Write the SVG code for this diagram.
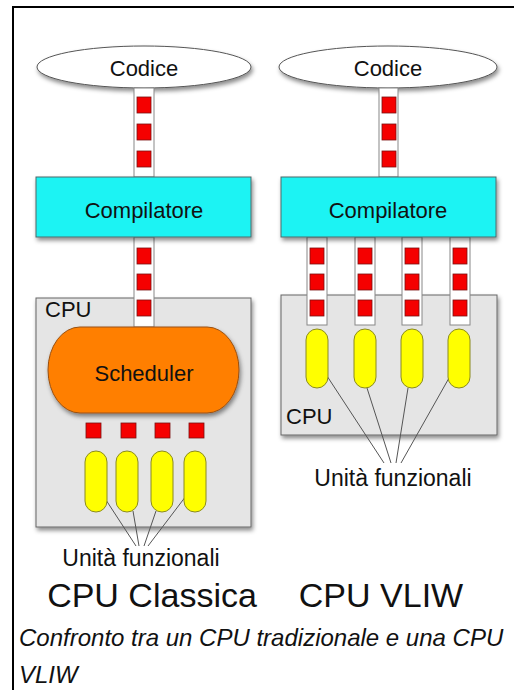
<svg xmlns="http://www.w3.org/2000/svg" width="514" height="690" viewBox="0 0 514 690">
<defs>
<filter id="sh" x="-10%" y="-10%" width="125%" height="130%">
<feDropShadow dx="1.5" dy="3" stdDeviation="2" flood-color="#000" flood-opacity="0.45"/>
</filter>
</defs>
<style>
text{font-family:"Liberation Sans",Arial,sans-serif;fill:#111}
.lbl{font-size:22px;text-anchor:middle}
.ell{fill:#fff;stroke:#555;stroke-width:1}
.comp{fill:#1ff3f3;stroke:#4a6a6a;stroke-width:1}
.cpu{fill:#e5e5e5;stroke:#666;stroke-width:1}
.sch{fill:#ff7f00;stroke:#9a5010;stroke-width:1}
.strip{fill:#fff;stroke:#888;stroke-width:1}
.sq{fill:#f50000;stroke:#7a1010;stroke-width:0.8}
.pill{fill:#ffff00;stroke:#8a8a20;stroke-width:1}
.ln{stroke:#555;stroke-width:1;fill:none}
</style>
<rect x="13" y="7" width="520" height="700" fill="#fff" stroke="#000" stroke-width="2"/>

<g id="cpu-classica">
<rect class="cpu" x="36" y="298" width="215" height="229" filter="url(#sh)"/>
<text x="45" y="317" style="font-size:22px">CPU</text>
</g>
<g id="cpu-vliw">
<rect class="cpu" x="281" y="295" width="216" height="140" filter="url(#sh)"/>
<text x="286" y="424" style="font-size:22px">CPU</text>
</g>

<g id="codice-left">
<ellipse class="ell" cx="144" cy="67" rx="107" ry="21" filter="url(#sh)"/>
<text class="lbl" x="144" y="76">Codice</text>
</g>
<g id="codice-right">
<ellipse class="ell" cx="388" cy="67" rx="109" ry="21" filter="url(#sh)"/>
<text class="lbl" x="388" y="76">Codice</text>
</g>

<g id="connectors">
<g id="strip-l1">
<rect class="strip" x="134" y="88" width="20" height="89"/>
<rect class="sq" x="137" y="97" width="14" height="16"/>
<rect class="sq" x="137" y="124" width="14" height="16"/>
<rect class="sq" x="137" y="151" width="14" height="16"/>
</g>
<g id="strip-l2">
<rect class="strip" x="134" y="237" width="20" height="90"/>
<rect class="sq" x="137" y="248" width="14" height="16"/>
<rect class="sq" x="137" y="274" width="14" height="16"/>
<rect class="sq" x="137" y="300" width="14" height="16"/>
</g>
<g id="strip-r1">
<rect class="strip" x="379" y="88" width="19" height="89"/>
<rect class="sq" x="382" y="97" width="14" height="16"/>
<rect class="sq" x="382" y="124" width="14" height="16"/>
<rect class="sq" x="382" y="151" width="14" height="16"/>
</g>
<g id="strip-r2">
<rect class="strip" x="307" y="237" width="20" height="88"/>
<rect class="sq" x="310" y="248" width="14" height="16"/>
<rect class="sq" x="310" y="274" width="14" height="16"/>
<rect class="sq" x="310" y="300" width="14" height="16"/>
<rect class="strip" x="355" y="237" width="20" height="88"/>
<rect class="sq" x="358" y="248" width="14" height="16"/>
<rect class="sq" x="358" y="274" width="14" height="16"/>
<rect class="sq" x="358" y="300" width="14" height="16"/>
<rect class="strip" x="402" y="237" width="20" height="88"/>
<rect class="sq" x="405" y="248" width="14" height="16"/>
<rect class="sq" x="405" y="274" width="14" height="16"/>
<rect class="sq" x="405" y="300" width="14" height="16"/>
<rect class="strip" x="450" y="237" width="20" height="88"/>
<rect class="sq" x="453" y="248" width="14" height="16"/>
<rect class="sq" x="453" y="274" width="14" height="16"/>
<rect class="sq" x="453" y="300" width="14" height="16"/>
</g>
<g id="queue-l">
<rect class="sq" x="86" y="423" width="15" height="15"/>
<rect class="sq" x="121" y="423" width="15" height="15"/>
<rect class="sq" x="155" y="423" width="15" height="15"/>
<rect class="sq" x="189" y="423" width="15" height="15"/>
</g>
<line class="ln" x1="106" y1="500" x2="136" y2="546"/>
<line class="ln" x1="133" y1="511" x2="139" y2="546"/>
<line class="ln" x1="156" y1="511" x2="144" y2="546"/>
<line class="ln" x1="186" y1="496" x2="148" y2="546"/>
<line class="ln" x1="327" y1="376" x2="384" y2="463"/>
<line class="ln" x1="367" y1="388" x2="391" y2="463"/>
<line class="ln" x1="408" y1="388" x2="396" y2="463"/>
<line class="ln" x1="449" y1="378" x2="401" y2="463"/>
</g>

<g id="compilatore-left">
<rect class="comp" x="36" y="177" width="215" height="60" filter="url(#sh)"/>
<text class="lbl" x="144" y="218">Compilatore</text>
</g>
<g id="compilatore-right">
<rect class="comp" x="281" y="177" width="215" height="60" filter="url(#sh)"/>
<text class="lbl" x="388" y="218">Compilatore</text>
</g>

<g id="scheduler">
<rect class="sch" x="48" y="327" width="191" height="86" rx="32" ry="43" filter="url(#sh)"/>
<text class="lbl" x="144" y="381">Scheduler</text>
</g>

<g id="unita-left">
<rect class="pill" x="85" y="451" width="22" height="61" rx="11"/>
<rect class="pill" x="116" y="451" width="22" height="61" rx="11"/>
<rect class="pill" x="151" y="451" width="22" height="61" rx="11"/>
<rect class="pill" x="184" y="451" width="22" height="61" rx="11"/>
</g>
<g id="unita-right">
<rect class="pill" x="306" y="329" width="22" height="59" rx="11"/>
<rect class="pill" x="354" y="329" width="22" height="59" rx="11"/>
<rect class="pill" x="401" y="329" width="22" height="59" rx="11"/>
<rect class="pill" x="448" y="329" width="22" height="59" rx="11"/>
</g>

<g id="labels">
<text x="141" y="566" style="font-size:23px;text-anchor:middle">Unità funzionali</text>
<text x="393" y="486" style="font-size:23px;text-anchor:middle">Unità funzionali</text>
<text x="152" y="607" style="font-size:34px;text-anchor:middle">CPU Classica</text>
<text x="381" y="607" style="font-size:34px;text-anchor:middle">CPU VLIW</text>
<text x="19" y="646" style="font-size:24px;font-style:italic">Confronto tra un CPU tradizionale e una CPU</text>
<text x="19" y="683" style="font-size:24px;font-style:italic">VLIW</text>
</g>
</svg>
